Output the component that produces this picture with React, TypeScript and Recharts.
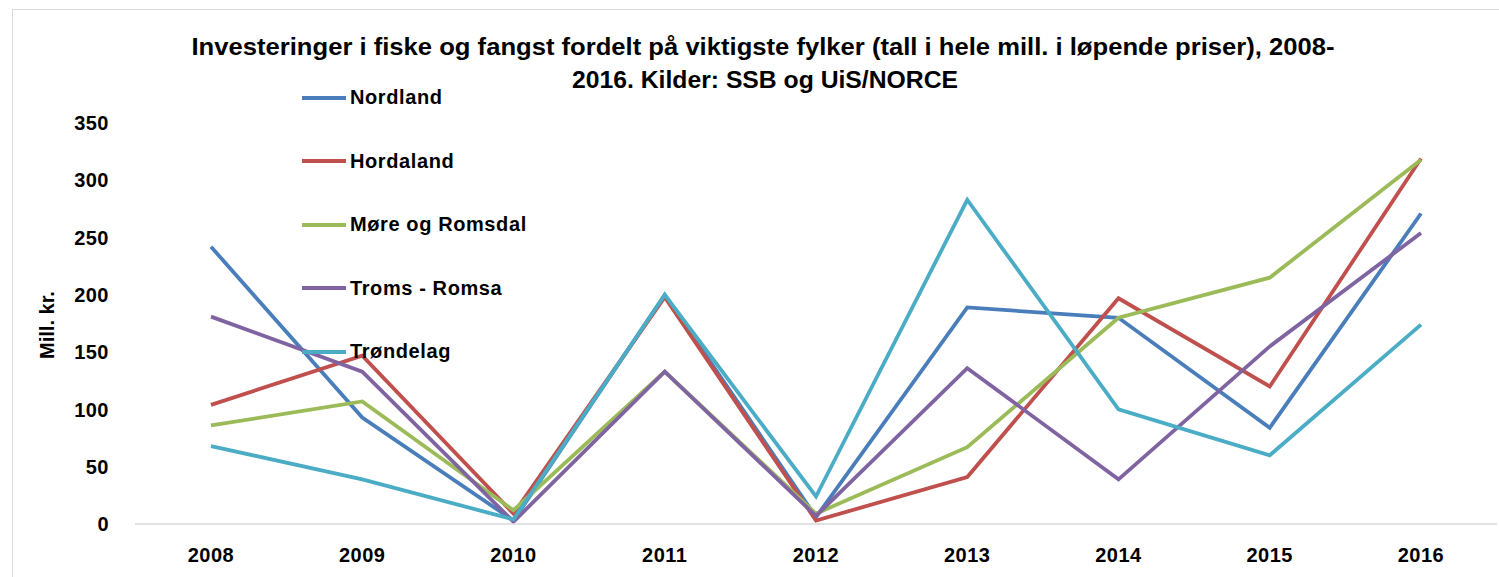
import React from 'react';
import { LineChart, Line, XAxis, YAxis, Legend } from 'recharts';

const years = ['2008', '2009', '2010', '2011', '2012', '2013', '2014', '2015', '2016'];
const nordland = [242, 93, 3, 200, 6, 189, 180, 84, 271];
const hordaland = [104, 147, 9, 198, 3, 41, 197, 120, 319];
const moreRomsdal = [86, 107, 12, 133, 9, 67, 180, 215, 318];
const troms = [181, 133, 2, 133, 7, 136, 39, 155, 254];
const trondelag = [68, 39, 4, 200, 24, 283, 100, 60, 174];
const yTicks = [0, 50, 100, 150, 200, 250, 300, 350];

const seriesDefs = [
  { key: 'nordland', name: 'Nordland', color: '#4A7EBB', values: nordland },
  { key: 'hordaland', name: 'Hordaland', color: '#C0504D', values: hordaland },
  { key: 'more', name: 'Møre og Romsdal', color: '#9BBB59', values: moreRomsdal },
  { key: 'troms', name: 'Troms - Romsa', color: '#8064A2', values: troms },
  { key: 'trondelag', name: 'Trøndelag', color: '#4BACC6', values: trondelag },
];

const data = years.map((y, i) => {
  const row: Record<string, string | number> = { year: y };
  seriesDefs.forEach((s) => {
    row[s.key] = s.values[i];
  });
  return row;
});

const FONT = '"Liberation Sans", Arial, sans-serif';

const LegendContent = () => (
  <div style={{ fontFamily: FONT, fontWeight: 'bold', fontSize: 20, letterSpacing: 0.6, color: '#000' }}>
    {seriesDefs.map((s) => (
      <div key={s.key} style={{ display: 'flex', alignItems: 'center', height: 63.5 }}>
        <div style={{ width: 44, height: 4, background: s.color, marginRight: 4 }} />
        <span>{s.name}</span>
      </div>
    ))}
  </div>
);

const tickStyle = { fill: '#000', fontSize: 20, fontWeight: 'bold', fontFamily: FONT, letterSpacing: 0.5 };

export default function App() {
  return (
    <div style={{ position: 'absolute', left: 0, top: 0, width: 1499, height: 577, background: '#fff', overflow: 'hidden' }}>
      <div style={{ position: 'absolute', left: 12, top: 9, width: 1600, height: 700, borderLeft: '1px solid #d9d9d9', borderTop: '1px solid #d9d9d9' }} />
      <div style={{ position: 'absolute', left: 0, top: 0 }}>
        <LineChart width={1499} height={577} data={data} margin={{ top: 123, right: 2, bottom: 0, left: 0 }}>
          <XAxis
            dataKey="year"
            height={53}
            padding={{ left: 76, right: 76 }}
            axisLine={{ stroke: '#d9d9d9', strokeWidth: 1.5 }}
            tickLine={false}
            tickSize={0}
            tickMargin={24}
            tick={tickStyle}
            interval={0}
          />
          <YAxis
            width={135}
            domain={[0, 350]}
            ticks={yTicks}
            axisLine={false}
            tickLine={false}
            tickSize={0}
            tickMargin={26}
            tick={tickStyle}
          />
          <Legend
            layout="horizontal"
            verticalAlign="middle"
            align="center"
            content={<LegendContent />}
            wrapperStyle={{ position: 'absolute', left: 302, top: 66, width: 280, height: 320 }}
          />
          {seriesDefs.map((s) => (
            <Line
              key={s.key}
              type="linear"
              dataKey={s.key}
              name={s.name}
              stroke={s.color}
              strokeWidth={3.8}
              dot={false}
              activeDot={false}
              isAnimationActive={false}
            />
          ))}
        </LineChart>
      </div>
      <svg width={1499} height={577} style={{ position: 'absolute', left: 0, top: 0, pointerEvents: 'none' }}>
        <text
          x={763}
          y={55}
          textAnchor="middle"
          fontFamily={FONT}
          fontWeight="bold"
          fontSize={23}
          textLength={1143}
          lengthAdjust="spacingAndGlyphs"
          fill="#000"
        >
          Investeringer i fiske og fangst fordelt på viktigste fylker (tall i hele mill. i løpende priser), 2008-
        </text>
        <text
          x={765}
          y={88}
          textAnchor="middle"
          fontFamily={FONT}
          fontWeight="bold"
          fontSize={23}
          textLength={386}
          lengthAdjust="spacingAndGlyphs"
          fill="#000"
        >
          2016. Kilder: SSB og UiS/NORCE
        </text>
        <text
          x={0}
          y={0}
          transform="translate(54, 325) rotate(-90)"
          textAnchor="middle"
          fontFamily={FONT}
          fontWeight="bold"
          fontSize={20}
          fill="#000"
        >
          Mill. kr.
        </text>
      </svg>
    </div>
  );
}
